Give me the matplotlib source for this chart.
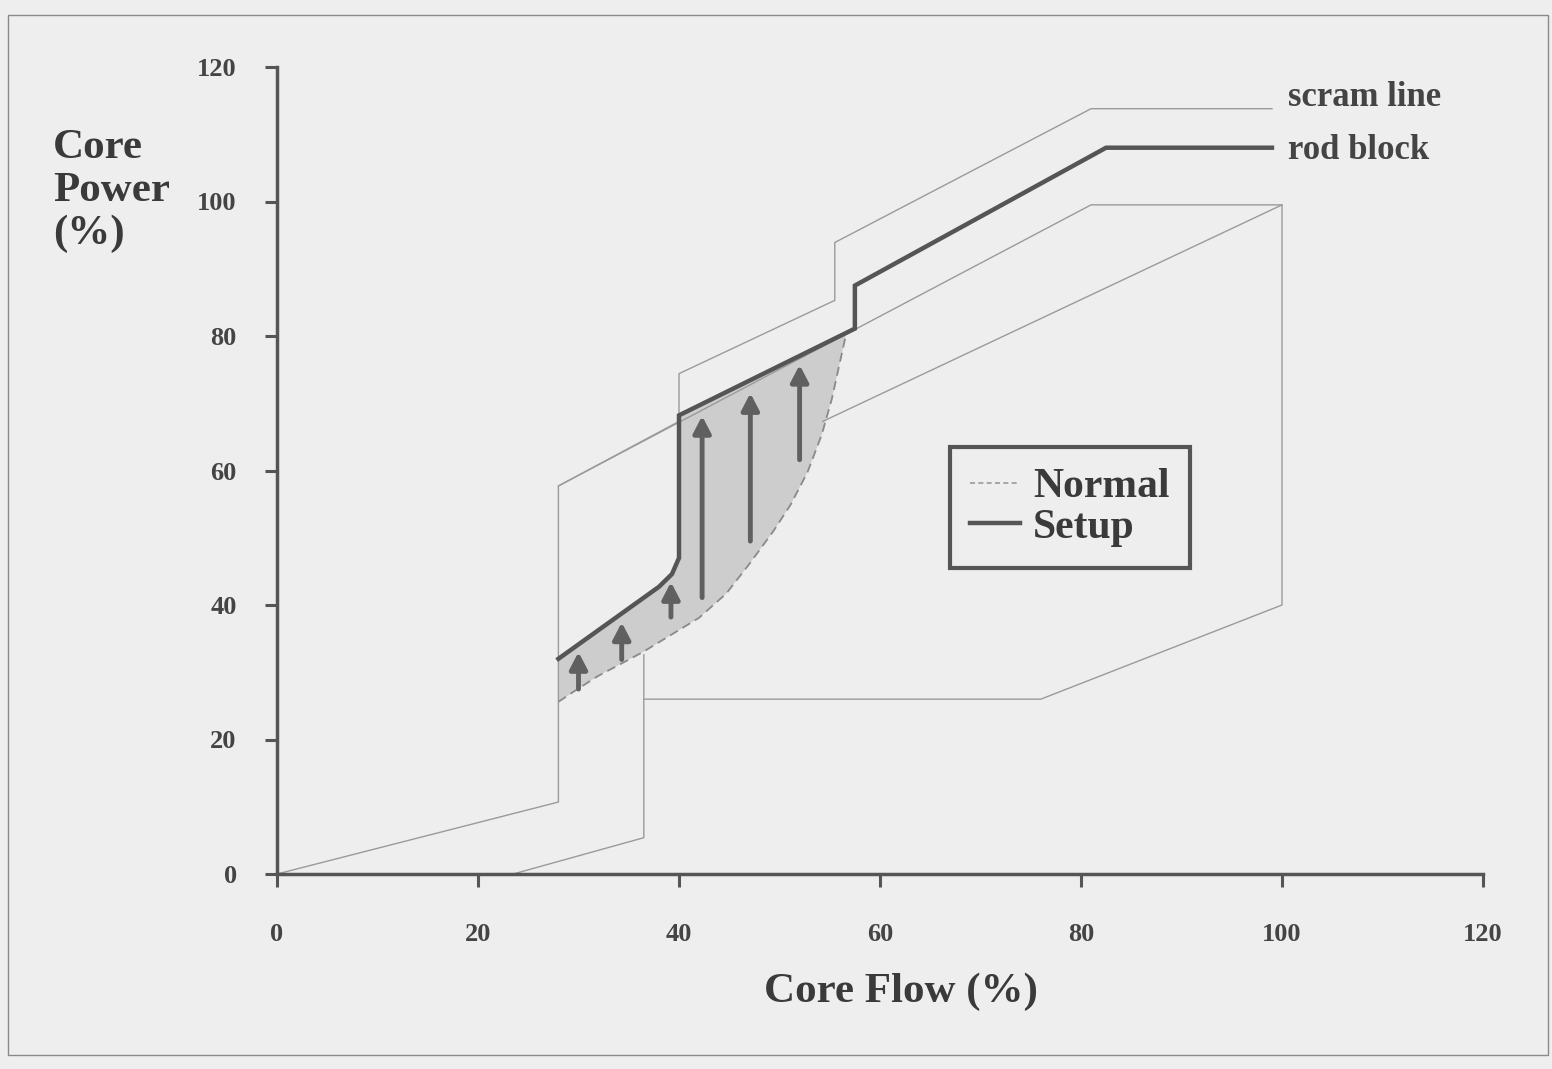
import matplotlib
matplotlib.use("Agg")
from matplotlib import pyplot as plt
from matplotlib.lines import Line2D
from matplotlib.patches import Rectangle

# scram line
scram_x = [0, 28, 28, 40, 40, 55.5, 55.5, 81, 99]
scram_y = [0, 10.7, 57.7, 67.3, 74.4, 85.3, 93.9, 113.8, 113.8]

# normal rod block line and the operating region boundary
rod_x = [28, 81, 100, 100, 76, 36.5]
rod_y = [57.7, 99.5, 99.5, 40, 26, 26]

# minimum pump speed line
pump_x = [36.5, 36.5, 23.5]
pump_y = [32.6, 5.4, 0]

# rod line above the normal curve
rodline_x = [54.3, 100]
rodline_y = [67.3, 99.5]

# setup rod block (thick)
setup_x = [28, 38, 39.3, 40, 40, 57.5, 57.5, 82.5, 99]
setup_y = [32, 42.7, 44.6, 47, 68.2, 81.1, 87.5, 108, 108]

# normal curve (dashed)
normal_x = [28, 29.6, 31.9, 36.4, 42, 44.7, 47, 49.4, 51.1, 52.8, 54.2, 55.2, 56.6]
normal_y = [25.6, 27.2, 29.4, 33.0, 38.1, 41.7, 46.1, 51.0, 54.9, 59.8, 65.3, 70.6, 80.1]

# arrows: flow position, start power, end power
arrow_x = [30, 34.3, 39.2, 42.3, 47.1, 52]
arrow_from = [27.5, 31.9, 38.2, 41.1, 49.5, 61.6]
arrow_to = [33, 37.4, 43.4, 68.1, 71.5, 75.7]

ticks = [0, 20, 40, 60, 80, 100, 120]

bg = "#eeeeee"
dark = "#555555"
thin = "#9a9a9a"
serif = "Liberation Serif"

fig = plt.figure(figsize=(15.52, 10.69), dpi=100, facecolor=bg)
ax = fig.add_axes([277 / 1552, 1 - 874 / 1069, 1206 / 1552, 807 / 1069])
ax.set_facecolor(bg)

# shaded region between the normal curve and the setup line
poly_x = setup_x[:5] + normal_x[::-1]
poly_y = setup_y[:5] + normal_y[::-1]
ax.fill(poly_x, poly_y, color="#cdcdcd", lw=0, zorder=1)

ax.plot(scram_x, scram_y, color=thin, lw=1.0, zorder=2)
ax.plot(rod_x, rod_y, color=thin, lw=1.0, zorder=2)
ax.plot(pump_x, pump_y, color=thin, lw=1.0, zorder=2, clip_on=False)
ax.plot(rodline_x, rodline_y, color=thin, lw=1.0, zorder=2)

ax.plot(normal_x, normal_y, color="#8a8a8a", lw=1.3, ls=(0, (5, 3)), zorder=3,
        label="Normal")
ax.plot(setup_x, setup_y, color=dark, lw=3.2, zorder=4, label="Setup",
        solid_joinstyle="miter")

for x, y0, y1 in zip(arrow_x, arrow_from, arrow_to):
    ax.annotate("", xy=(x, y1), xytext=(x, y0),
                arrowprops=dict(arrowstyle="-|>,head_width=0.24,head_length=0.46",
                                lw=3.5, color="#606060", shrinkA=0, shrinkB=0,
                                mutation_scale=22), zorder=5)

ax.text(100.6, 115.5, "scram line", fontsize=25, family=serif, weight="bold",
        color="#444444", va="center", ha="left")
ax.text(100.6, 107.6, "rod block", fontsize=25, family=serif, weight="bold",
        color="#444444", va="center", ha="left")

handles = [Line2D([], [], color="#9a9a9a", lw=1.2, ls=(0, (3, 2))),
           Line2D([], [], color=dark, lw=3.2)]
leg = ax.legend(handles, ["Normal", "Setup"], loc="center",
                bbox_to_anchor=(78.9, 54.5), bbox_transform=ax.transData,
                prop=dict(family=serif, weight="bold", size=30),
                handlelength=1.2, handletextpad=0.3, labelspacing=0.05,
                borderpad=0.5, fancybox=False, framealpha=1,
                facecolor=bg, edgecolor=dark)
leg.get_frame().set_linewidth(3)
for t in leg.get_texts():
    t.set_color("#3a3a3a")

ax.set_xlim(0, 120)
ax.set_ylim(0, 120)
ax.set_xticks(ticks)
ax.set_yticks(ticks)
for s in ["top", "right"]:
    ax.spines[s].set_visible(False)
for s in ["left", "bottom"]:
    ax.spines[s].set_color(dark)
    ax.spines[s].set_linewidth(2.5)
ax.tick_params(direction="out", length=9, width=2.2, color=dark,
               labelcolor="#444444")
ax.tick_params(axis="x", pad=26)
ax.tick_params(axis="y", pad=20)
for lab in ax.get_xticklabels() + ax.get_yticklabels():
    lab.set_family(serif)
    lab.set_weight("bold")
    lab.set_fontsize(19)

fig.text(0.034, 0.879, "Core\nPower\n(%)", fontsize=31, family=serif,
         weight="bold", color="#3a3a3a", va="top", ha="left", linespacing=1.15)
fig.text(0.5806, 0.072, "Core Flow (%)", fontsize=31, family=serif,
         weight="bold", color="#3a3a3a", va="center", ha="center")

fig.patches.append(Rectangle((8 / 1552, 1 - 1055 / 1069), 1540 / 1552,
                             1040 / 1069, transform=fig.transFigure,
                             fill=False, edgecolor="#8a8a8a", lw=1.0))

fig.savefig("out.png", dpi=100, facecolor=bg)
